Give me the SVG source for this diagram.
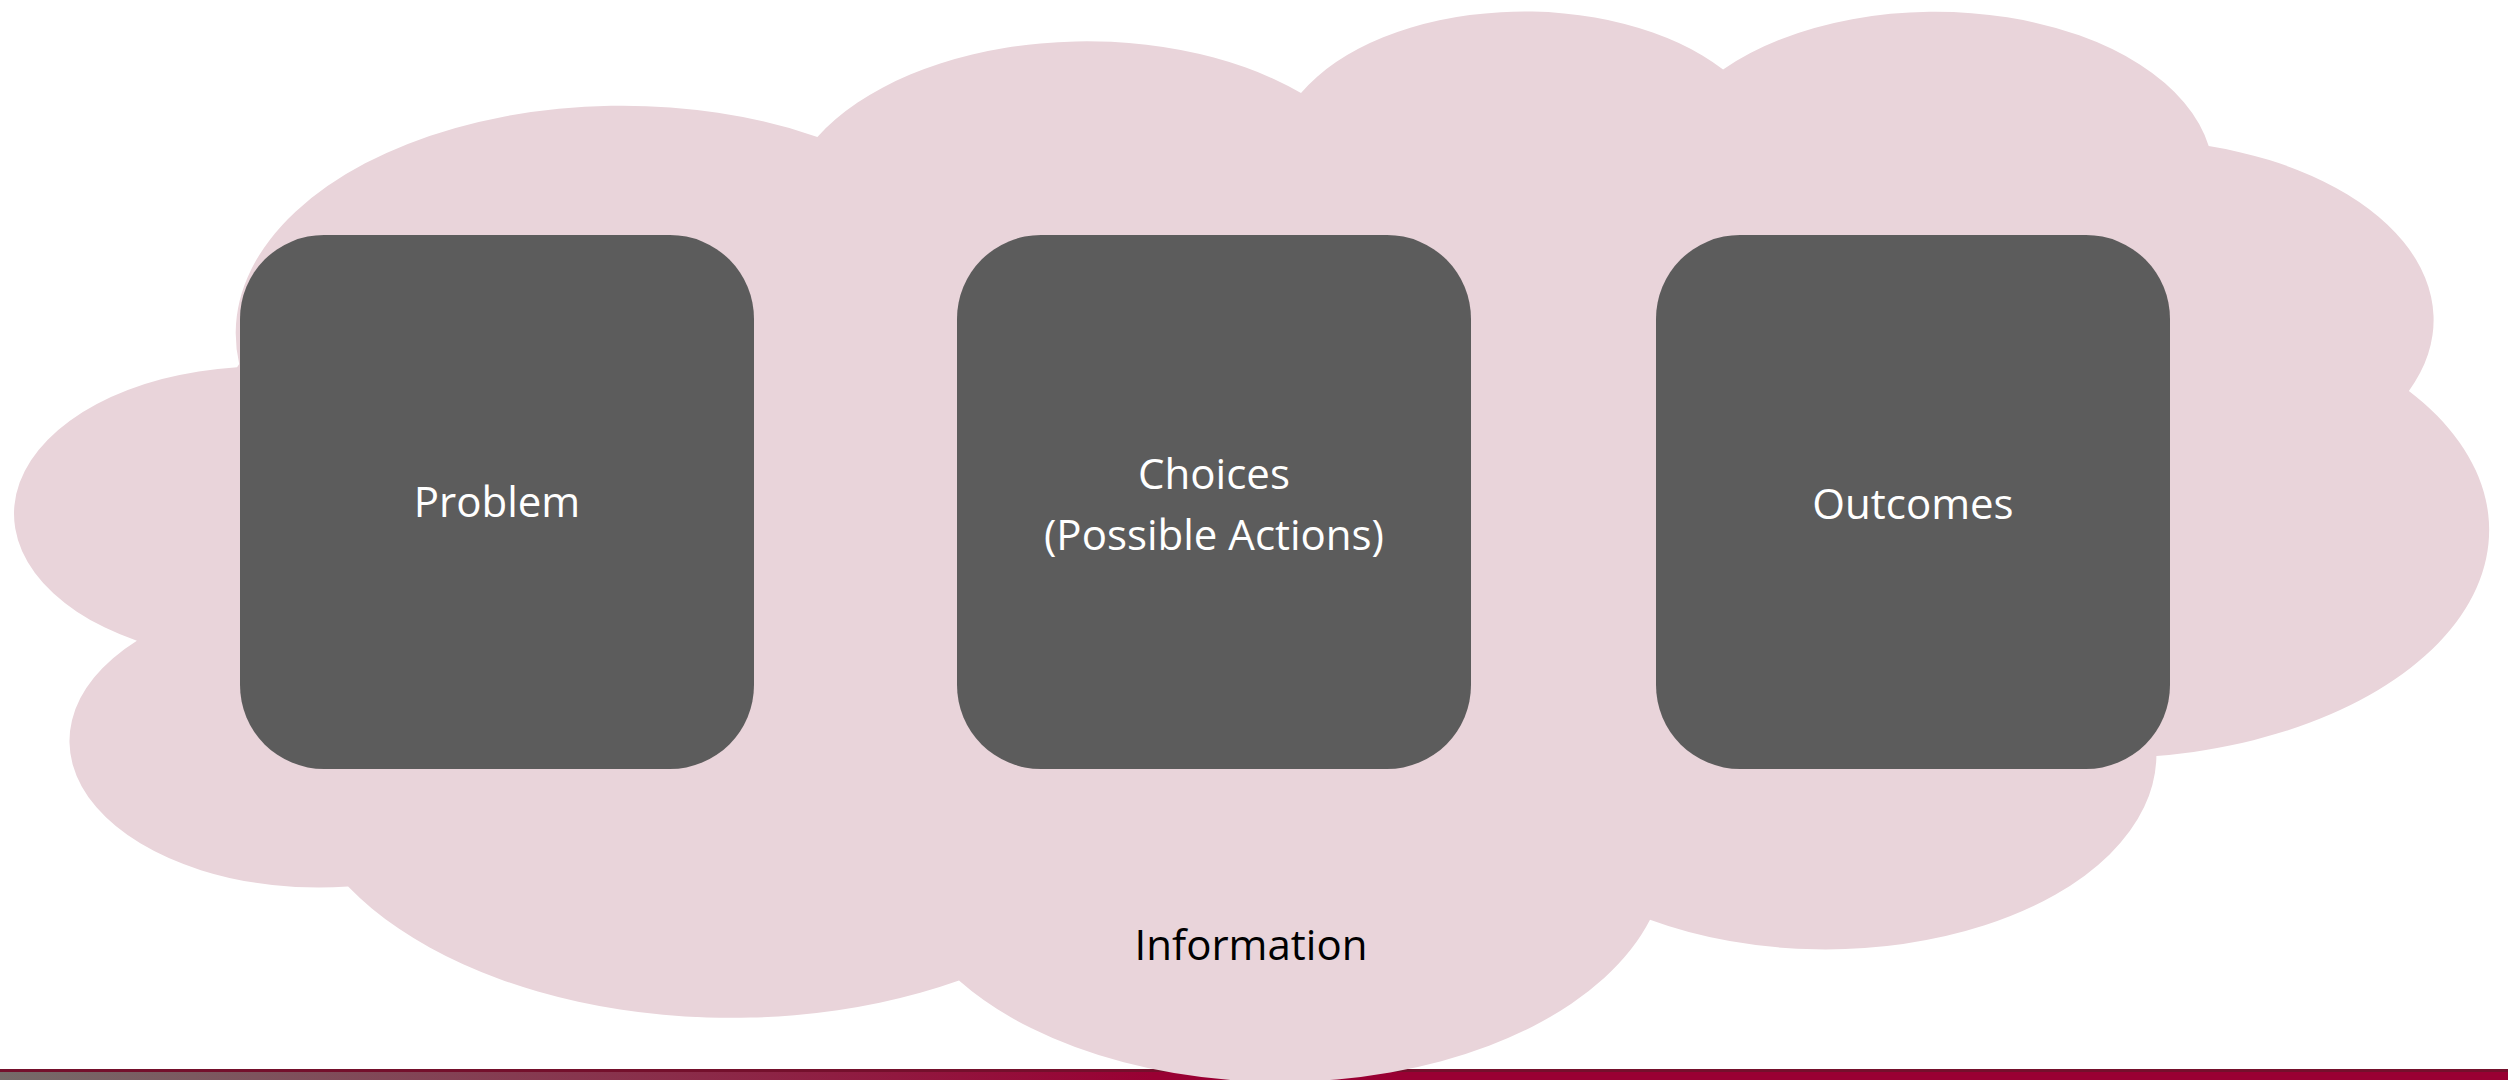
<svg xmlns="http://www.w3.org/2000/svg" width="2508" height="1080" viewBox="0 0 2508 1080">
<defs>
<linearGradient id="barGrad" x1="0" y1="0" x2="2508" y2="0" gradientUnits="userSpaceOnUse">
<stop offset="0" stop-color="#756b69"/>
<stop offset="0.46" stop-color="#990033"/>
<stop offset="1" stop-color="#990033"/>
</linearGradient>
<style>
.box{fill:#5c5c5c;}
.lbl{font-family:"Open Sans","Liberation Sans",sans-serif;font-size:42px;fill:#ffffff;text-anchor:middle;}
.info{font-family:"Open Sans","Liberation Sans",sans-serif;font-size:42px;fill:#000000;text-anchor:middle;}
.cloud{fill:#e9d4da;}
</style>
</defs>
<rect width="2508" height="1080" fill="#ffffff"/>
<g id="footer">
<rect x="0" y="1069" width="2508" height="3" fill="#74102c"/>
<rect x="0" y="1072" width="2508" height="8" fill="url(#barGrad)"/>
</g>
<g id="information">
<path class="cloud" d="M239.2 363.9 A386.43 227.63 0 0 1 817.4 136.9 A305.17 179.99 0 0 1 1301.0 93.0 A249.78 147.25 0 0 1 1723.1 69.5 A277.93 163.35 0 0 1 2208.7 146.1 A305.17 180.14 0 0 1 2408.9 390.9 A387.68 228.37 0 0 1 2156.4 756.1 A331.03 194.85 0 0 1 1650.0 919.8 A386.37 228.24 0 0 1 959.0 980.5 A441.76 261.13 0 0 1 348.1 886.6 A249.49 146.58 0 0 1 136.9 640.8 A248.63 147.25 0 0 1 237.1 367.3 Z"/>
<text class="info" x="1251" y="960">Information</text>
</g>
<g id="problem">
<rect class="box" x="240" y="235" width="514" height="534" rx="84" ry="84"/>
<text class="lbl" x="497" y="517">Problem</text>
</g>
<g id="choices">
<rect class="box" x="957" y="235" width="514" height="534" rx="84" ry="84"/>
<text class="lbl" x="1214" y="489">Choices</text>
<text class="lbl" x="1214" y="550">(Possible Actions)</text>
</g>
<g id="outcomes">
<rect class="box" x="1656" y="235" width="514" height="534" rx="84" ry="84"/>
<text class="lbl" x="1913" y="519">Outcomes</text>
</g>
<g id="connectors"></g>
</svg>
